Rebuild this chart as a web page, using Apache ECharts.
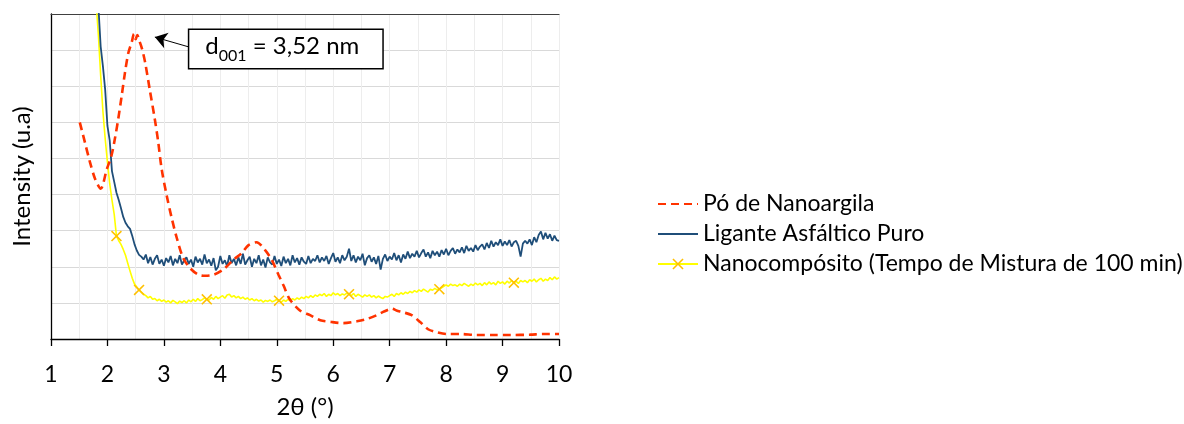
<!DOCTYPE html>
<html>
<head>
<meta charset="utf-8">
<script src="https://cdn.jsdelivr.net/npm/echarts@6/dist/echarts.min.js"></script>
<style>
  html, body { margin: 0; padding: 0; background: #fff; }
  #chart { width: 1184px; height: 424px; }
</style>
</head>
<body>
<div id="chart"></div>
<script>
// XRD patterns: intensity (u.a) versus 2θ (°)

const xTicks = [1, 2, 3, 4, 5, 6, 7, 8, 9, 10];

// Nanoclay powder: [2θ, intensity]
const nanoargila = [
  [1.51, 6.00], [1.60, 5.45], [1.69, 4.90], [1.78, 4.44], [1.88, 4.16],
  [1.99, 4.71], [2.07, 5.07], [2.13, 5.53], [2.19, 6.08], [2.25, 6.71],
  [2.31, 7.37], [2.37, 7.92], [2.43, 8.22], [2.47, 8.45], [2.50, 8.30],
  [2.53, 8.42], [2.56, 8.28], [2.61, 8.05], [2.67, 7.64], [2.75, 6.90],
  [2.84, 6.08], [2.90, 5.45], [2.96, 4.71], [3.05, 3.97], [3.14, 3.34],
  [3.23, 2.79], [3.34, 2.25], [3.46, 1.97], [3.61, 1.78], [3.73, 1.75],
  [3.88, 1.78], [4.05, 1.92], [4.23, 2.19], [4.38, 2.38], [4.50, 2.60],
  [4.64, 2.68], [4.79, 2.47], [4.91, 2.19], [5.03, 1.78], [5.12, 1.48],
  [5.23, 1.10], [5.41, 0.79], [5.59, 0.66], [5.77, 0.52], [5.97, 0.47],
  [6.18, 0.44], [6.42, 0.49], [6.59, 0.55], [6.77, 0.66], [6.90, 0.76],
  [7.04, 0.84], [7.12, 0.79], [7.24, 0.74], [7.39, 0.66], [7.54, 0.47],
  [7.68, 0.27], [7.83, 0.19], [8.01, 0.14], [8.25, 0.14], [8.54, 0.11],
  [8.84, 0.11], [9.13, 0.11], [9.49, 0.12], [9.72, 0.14], [10.00, 0.14]
];

// Neat asphalt binder, scanned from 1.84° in 0.04° steps
const liganteStart = 1.84;
const ligante = [
  9.20, 8.10, 7.55, 6.90, 5.90, 5.50, 4.65, 4.35, 4.05, 3.85,
  3.62, 3.38, 3.22, 3.12, 3.05, 2.85, 2.62, 2.45, 2.33, 2.28,
  2.20, 2.34, 2.10, 2.27, 2.06, 2.22, 2.32, 2.08, 2.20, 2.03,
  2.24, 2.12, 2.30, 2.04, 2.22, 2.10, 2.32, 2.06, 2.18, 2.26,
  2.08, 2.20, 2.00, 2.28, 2.12, 2.22, 2.06, 2.34, 2.10, 2.20,
  2.03, 2.24, 1.90, 2.00, 2.30, 2.08, 2.18, 2.02, 2.32, 2.10,
  2.22, 2.04, 2.26, 2.08, 2.36, 2.06, 2.18, 2.28, 2.00, 2.22,
  2.10, 2.32, 2.04, 2.20, 1.98, 2.26, 2.12, 2.06, 2.30, 2.08,
  2.20, 2.02, 2.28, 2.10, 2.22, 2.04, 2.32, 2.12, 2.24, 2.06,
  2.26, 2.14, 2.08, 2.30, 2.10, 2.22, 2.16, 2.32, 2.12, 2.26,
  2.16, 2.30, 2.08, 2.24, 2.38, 2.14, 2.26, 2.10, 2.32, 2.18,
  2.28, 2.50, 2.16, 2.32, 2.12, 2.28, 2.18, 2.36, 2.04, 2.24,
  2.32, 2.14, 2.26, 2.08, 2.30, 1.92, 2.22, 2.34, 2.16, 2.28,
  2.20, 2.38, 2.18, 2.32, 2.12, 2.34, 2.22, 2.42, 2.24, 2.36,
  2.28, 2.44, 2.26, 2.38, 2.48, 2.28, 2.40, 2.24, 2.44, 2.32,
  2.42, 2.28, 2.46, 2.34, 2.50, 2.32, 2.44, 2.52, 2.36, 2.48,
  2.40, 2.54, 2.38, 2.58, 2.44, 2.52, 2.42, 2.60, 2.46, 2.56,
  2.62, 2.48, 2.66, 2.52, 2.72, 2.56, 2.68, 2.60, 2.76, 2.58,
  2.70, 2.60, 2.74, 2.56, 2.68, 2.72, 2.58, 2.28, 2.64, 2.72,
  2.64, 2.76, 2.60, 2.82, 2.68, 2.88, 2.98, 2.76, 2.94, 2.78,
  2.90, 2.72, 2.86, 2.74, 2.72
];

// Nanocomposite (100 min mixing), scanned from 1.80° in 0.04° steps
const nanocompStart = 1.80;
const nanocomp = [
  9.30, 8.40, 7.30, 6.30, 5.55, 4.90, 4.30, 3.85, 3.45, 2.85,
  2.72, 2.62, 2.48, 2.32, 2.10, 1.88, 1.68, 1.52, 1.44, 1.36,
  1.30, 1.24, 1.20, 1.14, 1.18, 1.10, 1.12, 1.06, 1.10, 1.04,
  1.08, 1.02, 1.06, 1.00, 1.07, 1.03, 0.98, 1.05, 1.01, 1.06,
  1.00, 1.08, 1.03, 1.10, 1.04, 1.12, 1.06, 1.09, 1.14, 1.10,
  1.08, 1.15, 1.10, 1.18, 1.12, 1.16, 1.20, 1.13, 1.22, 1.24,
  1.16, 1.20, 1.14, 1.18, 1.12, 1.16, 1.10, 1.14, 1.08, 1.12,
  1.06, 1.10, 1.05, 1.08, 1.02, 1.07, 1.04, 1.08, 1.03, 1.06,
  1.10, 1.06, 1.02, 1.08, 1.04, 1.10, 1.06, 1.12, 1.08, 1.14,
  1.10, 1.16, 1.12, 1.18, 1.14, 1.20, 1.15, 1.22, 1.18, 1.24,
  1.20, 1.26, 1.18, 1.24, 1.20, 1.28, 1.22, 1.26, 1.20, 1.25,
  1.22, 1.27, 1.24, 1.20, 1.26, 1.18, 1.24, 1.20, 1.16, 1.22,
  1.18, 1.22, 1.16, 1.20, 1.14, 1.19, 1.15, 1.12, 1.18, 1.16,
  1.20, 1.24, 1.18, 1.26, 1.22, 1.28, 1.24, 1.30, 1.26, 1.32,
  1.28, 1.34, 1.30, 1.36, 1.32, 1.38, 1.34, 1.30, 1.38, 1.35,
  1.40, 1.36, 1.38, 1.42, 1.46, 1.50, 1.46, 1.52, 1.48, 1.50,
  1.46, 1.52, 1.48, 1.54, 1.50, 1.46, 1.52, 1.48, 1.55, 1.50,
  1.54, 1.48, 1.56, 1.50, 1.58, 1.52, 1.56, 1.50, 1.60, 1.54,
  1.58, 1.52, 1.60, 1.55, 1.62, 1.56, 1.60, 1.54, 1.62, 1.58,
  1.62, 1.56, 1.64, 1.60, 1.66, 1.58, 1.64, 1.68, 1.60, 1.66,
  1.62, 1.70, 1.64, 1.72, 1.66, 1.70
];
// points of the nanocomposite scan that carry a marker
const nanocompMarkers = [2.16, 2.56, 3.76, 5.04, 6.28, 7.88, 9.20];

const scanStep = 0.04;
const peakLabel = 'd001 = 3,52 nm';

const seriesNames = [
  'Pó de Nanoargila',
  'Ligante Asfáltico Puro',
  'Nanocompósito (Tempo de Mistura de 100 min)'
];

function toPairs(start, values) {
  return values.map((v, i) => [+(start + i * scanStep).toFixed(2), v]);
}

const FONT = 'Lato';
const crossPath = 'path://M0,1L1,0L5,4L9,0L10,1L6,5L10,9L9,10L5,6L1,10L0,9L4,5Z';

const chart = echarts.init(document.getElementById('chart'), null, { renderer: 'canvas' });

chart.setOption({
  animation: false,
  backgroundColor: '#ffffff',
  textStyle: { fontFamily: FONT },
  grid: { left: 51, right: 625, top: 14, bottom: 82, containLabel: false },
  legend: {
    orient: 'vertical',
    left: 652,
    top: 187,
    itemWidth: 40,
    itemHeight: 14,
    itemGap: 6,
    textStyle: { fontFamily: FONT, fontSize: 23, lineHeight: 24, color: '#000' },
    data: [
      { name: seriesNames[0], itemStyle: { opacity: 0 } },
      { name: seriesNames[1], itemStyle: { opacity: 0 } },
      { name: seriesNames[2] }
    ]
  },
  xAxis: [{
    type: 'value',
    min: xTicks[0],
    max: xTicks[xTicks.length - 1],
    interval: 1,
    name: '2θ (°)',
    nameLocation: 'middle',
    nameGap: 56,
    nameTextStyle: { fontFamily: FONT, fontSize: 24, color: '#000' },
    axisLine: { lineStyle: { color: '#000', width: 1.3 } },
    axisTick: { show: true, length: 7, lineStyle: { color: '#000', width: 1.3 } },
    axisLabel: { fontFamily: FONT, fontSize: 23, color: '#000', margin: 24 },
    splitLine: { show: true, lineStyle: { color: '#EDEDED', width: 1 } },
    minorTick: { show: false, splitNumber: 2 },
    minorSplitLine: { show: true, lineStyle: { color: '#EDEDED', width: 1 } }
  }, {
    type: 'value',
    position: 'top',
    min: xTicks[0],
    max: xTicks[xTicks.length - 1],
    axisLine: { show: true, lineStyle: { color: '#404040', width: 1.2 } },
    axisTick: { show: false },
    axisLabel: { show: false },
    splitLine: { show: false }
  }],
  yAxis: {
    type: 'value',
    min: 0,
    max: 9,
    interval: 1,
    name: 'Intensity (u.a)',
    nameLocation: 'middle',
    nameGap: 17,
    nameTextStyle: { fontFamily: FONT, fontSize: 24, color: '#000' },
    axisLine: { show: true, lineStyle: { color: '#000', width: 1.3 } },
    axisTick: { show: false },
    axisLabel: { show: false },
    splitLine: { show: true, lineStyle: { color: '#D9D9D9', width: 1 } }
  },
  series: [{
    name: seriesNames[0],
    type: 'line',
    data: nanoargila,
    symbol: 'none',
    smooth: 0.3,
    lineStyle: { color: '#FF3300', width: 2.6, type: [8, 5] },
    itemStyle: { color: '#FF3300' },
    z: 4,
    markLine: {
      silent: true,
      symbol: ['none', 'arrow'],
      symbolSize: [12, 12],
      label: { show: false },
      lineStyle: { color: '#000', width: 1, type: 'solid' },
      data: [[{ coord: [3.46, 8.08] }, { coord: [2.84, 8.36] }]]
    },
    markPoint: {
      silent: true,
      symbol: 'rect',
      symbolSize: 0,
      data: [{ coord: [5.16, 8.03], value: peakLabel }],
      label: {
        show: true,
        position: 'inside',
        formatter: () => '{a|d}{s|001}{a| = 3,52 nm}',
        backgroundColor: '#fff',
        borderColor: '#000',
        borderWidth: 1.5,
        padding: [4, 23, 4, 16],
        rich: {
          a: { fontFamily: FONT, fontSize: 24, color: '#000', lineHeight: 30, verticalAlign: 'top' },
          s: { fontFamily: FONT, fontSize: 16, color: '#000', lineHeight: 15, verticalAlign: 'bottom' }
        }
      }
    }
  }, {
    name: seriesNames[1],
    type: 'line',
    data: toPairs(liganteStart, ligante),
    symbol: 'none',
    lineStyle: { color: '#1F4E79', width: 1.8 },
    itemStyle: { color: '#1F4E79' },
    z: 3
  }, {
    name: seriesNames[2],
    type: 'line',
    data: toPairs(nanocompStart, nanocomp),
    symbol: crossPath,
    showSymbol: true,
    symbolSize: (val) => nanocompMarkers.some(m => Math.abs(m - val[0]) < 1e-6) ? 11 : 0,
    lineStyle: { color: '#FFFF00', width: 1.6 },
    itemStyle: { color: '#FFC000' },
    z: 2
  }]
});
</script>
</body>
</html>
